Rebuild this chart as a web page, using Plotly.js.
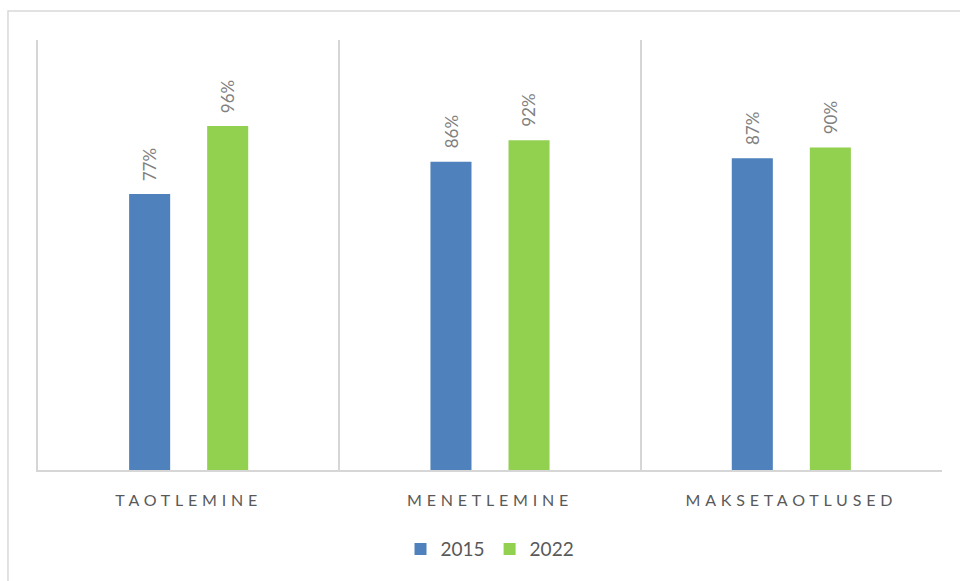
<!DOCTYPE html>
<html>
<head>
<meta charset="utf-8">
<script src="https://cdn.plot.ly/plotly-3.0.1.min.js"></script>
<style>
  html, body { margin: 0; padding: 0; background: #fff; }
  #chart { width: 960px; height: 581px; }
  .xtick text { letter-spacing: 4.8px; }
</style>
</head>
<body>
<div id="chart"></div>
<script>
const categories = ["TAOTLEMINE", "MENETLEMINE", "MAKSETAOTLUSED"];
const seriesNames = ["2015", "2022"];
const values2015 = [77, 86, 87];
const values2022 = [96, 92, 90];
const seriesColors = ["#4f81bd", "#92d050"];

const allValues = [values2015, values2022];
const traces = allValues.map((vals, i) => ({
  type: "bar",
  name: seriesNames[i],
  x: categories,
  y: vals,
  marker: { color: seriesColors[i] },
  hoverinfo: "none"
}));

const offsets = [-39, 39];
const annotations = [];
allValues.forEach((vals, i) => {
  vals.forEach((v, j) => {
    annotations.push({
      x: categories[j], y: v, xref: "x", yref: "y",
      text: v + "%", showarrow: false, textangle: -90,
      xanchor: "center", yanchor: "bottom",
      xshift: offsets[i], yshift: 11,
      font: { family: "Lato, 'Open Sans', sans-serif", size: 17, color: "#808080" }
    });
  });
});

const layout = {
  width: 960, height: 581,
  margin: { l: 38, r: 18, t: 40, b: 111 },
  paper_bgcolor: "#fff", plot_bgcolor: "#fff",
  barmode: "group",
  bargap: 0.482,
  bargroupgap: 0.474,
  showlegend: true,
  legend: {
    orientation: "h", x: 0.5, xanchor: "center", y: -0.184, yanchor: "middle",
    font: { family: "Lato, 'Open Sans', sans-serif", size: 19, color: "#595959" },
    itemwidth: 30, traceorder: "normal"
  },
  xaxis: {
    type: "category",
    tickson: "boundaries",
    showgrid: true, gridcolor: "#d6d6d6", gridwidth: 2,
    showline: true, linecolor: "#d6d6d6", linewidth: 2,
    ticks: "", ticklen: 0,
    ticklabelstandoff: 15,
    tickfont: { family: "Lato, 'Open Sans', sans-serif", size: 16, color: "#595959" },
    zeroline: false, fixedrange: true
  },
  yaxis: {
    range: [0, 120],
    showgrid: false, showticklabels: false, zeroline: false,
    showline: true, linecolor: "#d6d6d6", linewidth: 2,
    ticks: "", fixedrange: true
  },
  annotations: annotations,
  shapes: [{
    type: "rect", xref: "paper", yref: "paper",
    x0: -0.0332, x1: 1.2, y0: -0.6, y1: 1.0674,
    line: { color: "#d9d9d9", width: 1.5 }, fillcolor: "rgba(0,0,0,0)", layer: "below"
  }],
  font: { family: "Lato, 'Open Sans', sans-serif" }
};

Plotly.newPlot("chart", traces, layout, { staticPlot: true, displayModeBar: false });
</script>
</body>
</html>
